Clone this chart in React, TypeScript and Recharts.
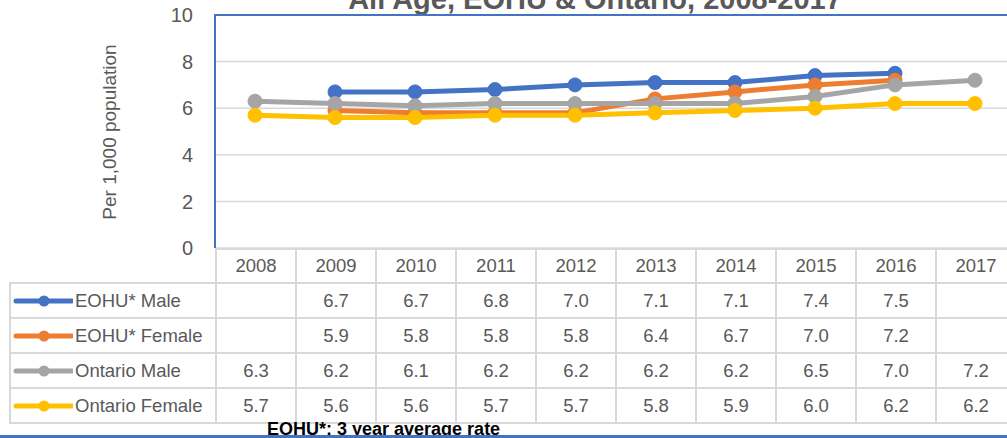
import { LineChart, Line, XAxis, YAxis, CartesianGrid } from "recharts";

const years = ["2008", "2009", "2010", "2011", "2012", "2013", "2014", "2015", "2016", "2017"];
const eohuMale = [null, 6.7, 6.7, 6.8, 7.0, 7.1, 7.1, 7.4, 7.5, null];
const eohuFemale = [null, 5.9, 5.8, 5.8, 5.8, 6.4, 6.7, 7.0, 7.2, null];
const ontarioMale = [6.3, 6.2, 6.1, 6.2, 6.2, 6.2, 6.2, 6.5, 7.0, 7.2];
const ontarioFemale = [5.7, 5.6, 5.6, 5.7, 5.7, 5.8, 5.9, 6.0, 6.2, 6.2];
const yTicks = [0, 2, 4, 6, 8, 10];

const series = [
  { key: "eohuMale", name: "EOHU* Male", color: "#4472C4", values: eohuMale },
  { key: "eohuFemale", name: "EOHU* Female", color: "#ED7D31", values: eohuFemale },
  { key: "ontarioMale", name: "Ontario Male", color: "#A5A5A5", values: ontarioMale },
  { key: "ontarioFemale", name: "Ontario Female", color: "#FFC000", values: ontarioFemale },
];

const data = years.map((year, i) => {
  const row: Record<string, string | number | null> = { year };
  series.forEach((s) => {
    row[s.key] = s.values[i];
  });
  return row;
});

const TEXT = "#595959";
const GRID = "#d9d9d9";
const BLUE = "#4472C4";
const FONT = "'Liberation Sans', Arial, sans-serif";

function DataTable() {
  const cell: React.CSSProperties = {
    border: `2px solid ${GRID}`,
    padding: 0,
    textAlign: "center",
    color: TEXT,
    fontSize: 18.5,
    height: 33,
  };
  return (
    <table
      style={{
        position: "absolute",
        left: 9,
        top: 248,
        borderCollapse: "collapse",
        tableLayout: "fixed",
        width: 1006,
        fontFamily: FONT,
      }}
    >
      <colgroup>
        <col style={{ width: 206 }} />
        {years.map((y) => (
          <col key={y} style={{ width: 80 }} />
        ))}
      </colgroup>
      <tbody>
        <tr>
          <td style={{ ...cell, height: 32, borderTop: "none", borderLeft: "none" }} />
          {years.map((y) => (
            <td key={y} style={{ ...cell, height: 32 }}>
              {y}
            </td>
          ))}
        </tr>
        {series.map((s) => (
          <tr key={s.key}>
            <td style={{ ...cell, textAlign: "left", whiteSpace: "nowrap" }}>
              <svg width={62} height={14} style={{ verticalAlign: "middle", marginRight: 2 }}>
                <line x1={5} x2={61} y1={7} y2={7} stroke={s.color} strokeWidth={5} strokeLinecap="round" />
                <circle cx={33} cy={7} r={5.5} fill={s.color} />
              </svg>
              <span style={{ verticalAlign: "middle" }}>{s.name}</span>
            </td>
            {s.values.map((v, i) => (
              <td key={i} style={cell}>
                {v == null ? "" : v.toFixed(1)}
              </td>
            ))}
          </tr>
        ))}
      </tbody>
    </table>
  );
}

export default function App() {
  return (
    <div
      style={{
        position: "absolute",
        left: 0,
        top: 0,
        width: 1007,
        height: 438,
        overflow: "hidden",
        background: "#fff",
        fontFamily: FONT,
      }}
    >
      <LineChart width={1016} height={438} data={data} margin={{ top: 15, right: 1, bottom: 190, left: 0 }}>
        <CartesianGrid vertical={false} stroke={GRID} strokeWidth={1.5} />
        <XAxis dataKey="year" scale="band" hide />
        <YAxis
          width={215}
          domain={[0, 10]}
          ticks={yTicks}
          axisLine={false}
          tickLine={false}
          tickMargin={16}
          tick={{ fill: TEXT, fontSize: 20, fontFamily: FONT }}
          label={() => (
            <text
              x={109}
              y={132}
              transform="rotate(-90 109 132)"
              textAnchor="middle"
              dominantBaseline="central"
              fill={TEXT}
              fontSize={19}
              fontFamily={FONT}
            >
              Per 1,000 population
            </text>
          )}
        />
        {series.map((s) => (
          <Line
            key={s.key}
            dataKey={s.key}
            name={s.name}
            stroke={s.color}
            strokeWidth={5}
            dot={{ r: 7, fill: s.color, stroke: s.color, strokeWidth: 1 }}
            activeDot={false}
            isAnimationActive={false}
          />
        ))}
      </LineChart>
      <DataTable />
      <svg width={1007} height={438} style={{ position: "absolute", left: 0, top: 0, pointerEvents: "none" }}>
        <text x={595} y={9} textAnchor="middle" fill={TEXT} fontSize={29} fontWeight="bold" fontFamily={FONT}>
          All Age, EOHU &amp; Ontario, 2008-2017
        </text>
        <line x1={215} x2={1007} y1={15} y2={15} stroke={BLUE} strokeWidth={2} />
        <line x1={215} x2={215} y1={14} y2={248} stroke={BLUE} strokeWidth={2} />
        <text x={267} y={435} fill="#000" fontSize={18} fontWeight="bold" fontFamily={FONT}>
          EOHU*: 3 year average rate
        </text>
        <rect x={0} y={435} width={1007} height={3} fill={BLUE} />
      </svg>
    </div>
  );
}
